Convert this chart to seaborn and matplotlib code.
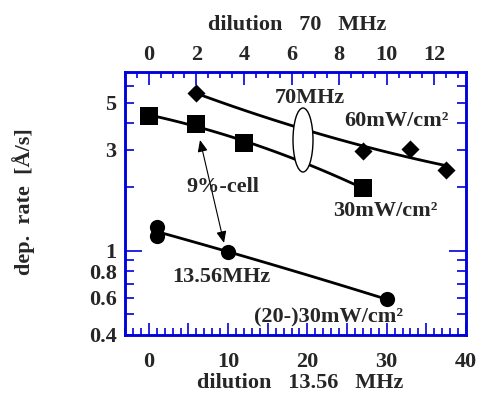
import numpy as np
import matplotlib
matplotlib.use("Agg")
import matplotlib.pyplot as plt
import seaborn as sns
from matplotlib.patches import Ellipse, FancyArrowPatch
from matplotlib.ticker import FixedLocator, MultipleLocator, FuncFormatter

# ---- data ----
# 70 MHz, 60 mW/cm2 (top axis: dilution 70 MHz)
d60_x = [2, 9, 11, 12.5]
d60_y = [5.57, 2.97, 3.03, 2.41]
# 70 MHz, 30 mW/cm2 (top axis)
d30_x = [0, 2, 4, 9]
d30_y = [4.34, 3.98, 3.24, 1.98]
# 13.56 MHz, (20-)30 mW/cm2 (bottom axis: dilution 13.56 MHz)
d13_x = [1, 1, 10, 30]
d13_y = [1.30, 1.17, 0.99, 0.59]

bottom_ticks = [0, 10, 20, 30, 40]
top_ticks = [0, 2, 4, 6, 8, 10, 12]
y_labels = [0.4, 0.6, 0.8, 1, 3, 5]
y_minor = [0.4, 0.5, 0.6, 0.7, 0.8, 0.9, 2, 3, 4, 5, 6]

sns.set_theme(style="white")
plt.rcParams['font.family'] = ['Liberation Serif', 'DejaVu Serif']
plt.rcParams['font.weight'] = 'bold'
plt.rcParams['axes.axisbelow'] = False

BLUE = '#0000dd'
FS = 16

W, H = 489, 394
fig = plt.figure(figsize=(W / 100, H / 100), dpi=100)
fig.patch.set_facecolor('white')
L, R, T, B = 125, 466, 72, 335
ax = fig.add_axes([L / W, 1 - B / H, (R - L) / W, (B - T) / H])
ax.set_yscale('log')
ax.set_xlim(-3, 40)
ax.set_ylim(0.4, 7.0)

# top axis: 70 MHz dilution = bottom value / 3
ax2 = ax.twiny()
ax2.set_xlim(-1, 40 / 3)


def fit_curve(x, y):
    c = np.polyfit(x, np.log10(y), 2)
    xs = np.linspace(min(x), max(x), 120)
    return xs, 10 ** np.polyval(c, xs)


# curves (guide to the eye)
cx, cy = fit_curve(d13_x, d13_y)
sns.lineplot(x=cx, y=cy, ax=ax, color='black', linewidth=2.0, sort=False)
cx, cy = fit_curve(d60_x, d60_y)
sns.lineplot(x=cx, y=cy, ax=ax2, color='black', linewidth=2.0, sort=False)
cx, cy = fit_curve(d30_x, d30_y)
sns.lineplot(x=cx, y=cy, ax=ax2, color='black', linewidth=2.0, sort=False)

# markers
sns.scatterplot(x=d13_x, y=d13_y, ax=ax, marker='o', s=120, color='black',
                linewidth=0, zorder=4)
sns.scatterplot(x=d30_x, y=d30_y, ax=ax2, marker='s', s=150, color='black',
                linewidth=0, zorder=4)
sns.scatterplot(x=d60_x, y=d60_y, ax=ax2, marker='D', s=85, color='black',
                linewidth=0, zorder=4)

ax.set_xlim(-3, 40)
ax2.set_xlim(-1, 40 / 3)
ax.set_ylim(0.4, 7.0)
ax.set_xlabel('')
ax.set_ylabel('')
ax2.set_xlabel('')
ax2.set_ylabel('')

# draw the main axes last, with a transparent background
ax.patch.set_visible(False)
ax2.patch.set_visible(False)
ax2.set_zorder(1)
ax.set_zorder(2)

# ---- spines ----
for a in (ax, ax2):
    a.set_axisbelow(False)
    for s in a.spines.values():
        s.set_color(BLUE)
        s.set_linewidth(1.8)

# ---- y ticks ----
ax.yaxis.set_major_locator(FixedLocator([1]))
ax.yaxis.set_minor_locator(FixedLocator(y_minor))
ax.yaxis.set_major_formatter(FuncFormatter(lambda v, p: f"{v:g}"))
ax.yaxis.set_minor_formatter(FuncFormatter(
    lambda v, p: f"{v:g}" if any(abs(v - t) < 1e-6 for t in y_labels) else ""))
ax.tick_params(axis='y', which='major', direction='in', length=12, width=1.2,
               color=BLUE, labelsize=FS, pad=6, left=True, right=True)
ax.tick_params(axis='y', which='minor', direction='in', length=6.5, width=1.2,
               color=BLUE, labelsize=FS, pad=6, left=True, right=True)

# ---- bottom x ticks ----
ax.xaxis.set_major_locator(MultipleLocator(5))
ax.xaxis.set_minor_locator(MultipleLocator(1))
ax.xaxis.set_major_formatter(FuncFormatter(
    lambda v, p: f"{v:g}" if round(v) in bottom_ticks else ""))
ax.xaxis.set_ticks_position('bottom')
ax.tick_params(axis='x', which='major', direction='in', length=9, width=1.2,
               color=BLUE, labelsize=FS, pad=12, bottom=True, top=False,
               labelbottom=True, labeltop=False)
ax.tick_params(axis='x', which='minor', direction='in', length=5, width=1.2,
               color=BLUE, bottom=True, top=False)

# ---- top x ticks ----
ax2.xaxis.set_major_locator(FixedLocator(top_ticks))
ax2.xaxis.set_minor_locator(MultipleLocator(0.5))
ax2.xaxis.set_major_formatter(FuncFormatter(lambda v, p: f"{v:g}"))
ax2.xaxis.set_ticks_position('top')
ax2.tick_params(axis='x', which='major', direction='in', length=9.5, width=1.2,
                color=BLUE, labelsize=FS, pad=5, top=True, bottom=False,
                labeltop=True, labelbottom=False)
ax2.tick_params(axis='x', which='minor', direction='in', length=4.5, width=1.2,
                color=BLUE, top=True, bottom=False)

# ---- axis titles ----
fig.text(297 / W, 1 - 30 / H, 'dilution   70   MHz', ha='center', va='baseline',
         fontsize=FS, fontweight='bold')
fig.text(300 / W, 1 - 388 / H, 'dilution   13.56   MHz', ha='center', va='baseline',
         fontsize=FS, fontweight='bold')
fig.text(24 / W, 1 - 202 / H, 'dep.  rate  [Å/s]', ha='center', va='center',
         rotation=90, fontsize=FS, fontweight='bold')


# ---- annotations (axes fractions from pixel positions) ----
def fx(px):
    return (px - L) / (R - L)


def fy(py):
    return (B - py) / (B - T)


tk = dict(transform=ax2.transAxes, ha='center', va='center', fontsize=FS,
          fontweight='bold', zorder=6)
ax2.text(fx(310), fy(98), '70MHz', **tk)
ax2.text(fx(396), fy(121), '60mW/cm²', **tk)
ax2.text(fx(223), fy(187), '9%-cell', **tk)
ax2.text(fx(385), fy(211), '30mW/cm²', **tk)
ax2.text(fx(221), fy(277), '13.56MHz', **tk)
ax2.text(fx(329), fy(317), '(20-)30mW/cm²', **tk)

ell = Ellipse((fx(303), fy(140)), 20 / (R - L), 64 / (B - T),
              transform=ax2.transAxes, facecolor='white', edgecolor='black',
              linewidth=1.0, zorder=5)
ax2.add_patch(ell)

arr = FancyArrowPatch((fx(200), fy(140)), (fx(224), fy(243)),
                      transform=ax2.transAxes,
                      arrowstyle='<|-|>,head_length=7,head_width=3',
                      color='black', linewidth=0.8, zorder=5,
                      shrinkA=0, shrinkB=0)
ax2.add_patch(arr)

fig.savefig('out.png', dpi=100, facecolor='white')
